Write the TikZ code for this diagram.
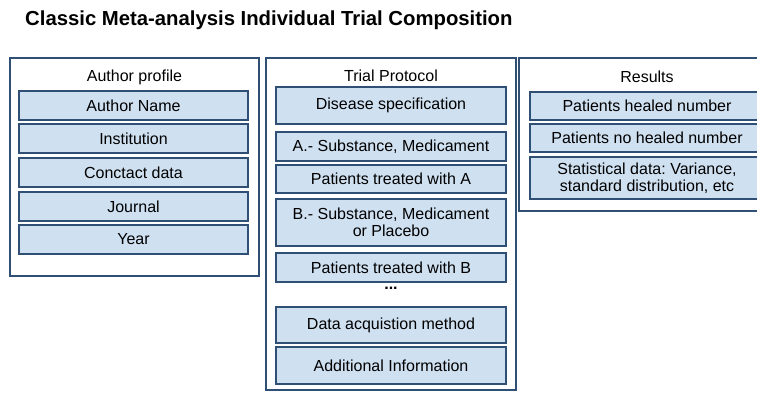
\documentclass[tikz,border=0pt]{standalone}
\usepackage{fontspec}
\setmainfont{Liberation Sans}
\frenchspacing
\definecolor{figD}{RGB}{47,79,116}
\definecolor{figL}{RGB}{207,224,241}

\begin{document}
\begin{tikzpicture}[x=1pt,y=-1pt,
  group/.style={draw=figD,line width=1.3pt,fill=white,inner sep=0pt},
  item/.style={draw=figD,line width=1.7pt,fill=figL,inner sep=0pt,align=center,font=\fontsize{16}{17.5}\selectfont},
  head/.style={inner sep=0pt,font=\fontsize{16}{17.5}\selectfont}]
\useasboundingbox (0,0) rectangle (757,392);
\clip (0,0) rectangle (757,392);
\node[anchor=base west,inner sep=0pt,font=\bfseries\fontsize{20.3}{24}\selectfont] (title) at (25,25) {Classic Meta-analysis Individual Trial Composition};
% author profile
\node[group,minimum width=249pt,minimum height=218pt] (profile) at (134.5,167) {};
\node[head] (profileH) at (134.5,77) {Author profile};
\node[item,minimum width=229pt,minimum height=29pt] (name) at (133.5,105.5) {Author Name};
\node[item,minimum width=229pt,minimum height=29pt] (inst) at (133.5,138.5) {Institution};
\node[item,minimum width=229pt,minimum height=29pt] (contact) at (133.5,172.5) {Conctact data};
\node[item,minimum width=229pt,minimum height=29pt] (journal) at (133.5,206.5) {Journal};
\node[item,minimum width=229pt,minimum height=29pt] (year) at (133.5,239.5) {Year};
% trial protocol
\node[group,minimum width=250pt,minimum height=332pt] (protocol) at (391,224) {};
\node[head] (protocolH) at (391,76) {Trial Protocol};
\node[item,minimum width=230pt,minimum height=37pt] (disease) at (391,105.5) {Disease specification};
\node[item,minimum width=230pt,minimum height=29pt] (subA) at (391,146.5) {A.- Substance, Medicament};
\node[item,minimum width=230pt,minimum height=28pt] (patA) at (391,179) {Patients treated with A};
\node[item,minimum width=230pt,minimum height=47pt] (subB) at (391,222.5) {B.- Substance, Medicament\\or Placebo};
\node[item,minimum width=230pt,minimum height=29pt] (patB) at (391,267.5) {Patients treated with B};
\node[head] (dots) at (391,288.5) {\textbf{...}};
\node[item,minimum width=230pt,minimum height=36pt] (method) at (391,325) {Data acquistion method};
\node[item,minimum width=230pt,minimum height=37pt] (extra) at (391,365.5) {Additional Information};
% results
\node[group,minimum width=256pt,minimum height=153pt] (results) at (647,134.5) {};
\node[head] (resultsH) at (647,77) {Results};
\node[item,minimum width=234pt,minimum height=28pt] (healed) at (647,106) {Patients healed number};
\node[item,minimum width=234pt,minimum height=28pt] (unhealed) at (647,138) {Patients no healed number};
\node[item,minimum width=234pt,minimum height=42pt] (stats) at (647,178) {Statistical data: Variance,\\standard distribution, etc};
\end{tikzpicture}
\end{document}
